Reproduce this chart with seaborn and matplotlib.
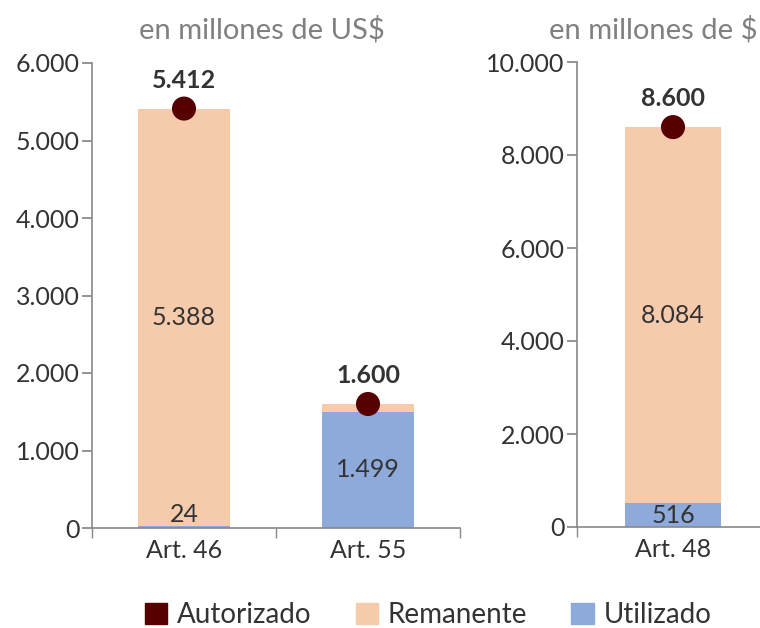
import matplotlib
matplotlib.use("Agg")
import matplotlib.pyplot as plt
import seaborn as sns
import pandas as pd
from matplotlib.patches import Patch
from matplotlib.ticker import FuncFormatter

# --- datos (en millones) ---
arts_left = ["Art. 46", "Art. 55"]
autorizado_left = [5412, 1600]
utilizado_left = [24, 1499]

arts_right = ["Art. 48"]
autorizado_right = [8600]
utilizado_right = [516]

subtitulos = ["en millones de US$", "en millones de $"]
leyenda = ["Autorizado", "Remanente", "Utilizado"]

C_AUT = "#560000"
C_REM = "#f6cbac"
C_UTI = "#8eaadb"
C_TXT = "#333333"
C_AX = "#888888"

sns.set_theme(style="white")
plt.rcParams["font.family"] = ["Lato", "DejaVu Sans"]

FS = 18


def miles(v, _pos=None):
    return f"{int(v):,}".replace(",", ".")


def panel(ax, arts, aut, uti, ymax, step):
    df = pd.DataFrame({"art": arts, "aut": aut, "uti": uti})
    df["rem"] = df["aut"] - df["uti"]
    # barra total (remanente) y encima la parte utilizada
    sns.barplot(data=df, x="art", y="aut", color=C_REM, width=0.5,
                saturation=1, linewidth=0, ax=ax)
    sns.barplot(data=df, x="art", y="uti", color=C_UTI, width=0.5,
                saturation=1, linewidth=0, ax=ax)
    sns.scatterplot(data=df, x="art", y="aut", color=C_AUT, s=300,
                    edgecolor="none", zorder=5, ax=ax)

    for i, r in df.iterrows():
        ax.annotate(miles(r["aut"]), (i, r["aut"]), xytext=(0, 12),
                    textcoords="offset points", ha="center", va="bottom",
                    fontsize=FS, fontweight="bold", color=C_TXT)
        if r["rem"] / ymax > 0.05:
            ax.text(i, r["uti"] + r["rem"] / 2, miles(r["rem"]), ha="center",
                    va="center", fontsize=FS, color=C_TXT)
        if r["uti"] / ymax > 0.05:
            ax.text(i, r["uti"] / 2, miles(r["uti"]), ha="center",
                    va="center", fontsize=FS, color=C_TXT)
        else:
            # segmento muy chico: etiqueta apoyada sobre la base
            ax.text(i, ymax * 0.005, miles(r["uti"]), ha="center", va="bottom",
                    fontsize=FS, color=C_TXT)

    ax.set_ylim(0, ymax)
    ax.set_yticks(range(0, ymax + 1, step))
    ax.yaxis.set_major_formatter(FuncFormatter(miles))
    ax.set_xticks(range(len(arts)))
    ax.set_xticks([b - 0.5 for b in range(len(arts) + 1)], minor=True)
    ax.set_xlim(-0.5, len(arts) - 0.5)
    ax.tick_params(axis="x", which="major", length=0, pad=8, labelsize=FS,
                   labelcolor=C_TXT)
    ax.tick_params(axis="x", which="minor", length=7, color=C_AX,
                   direction="out", bottom=True)
    ax.tick_params(axis="y", length=7, color=C_AX, direction="out", left=True,
                   labelsize=FS, labelcolor=C_TXT, pad=2)
    ax.set_xlabel("")
    ax.set_ylabel("")
    for s in ["top", "right"]:
        ax.spines[s].set_visible(False)
    for s in ["left", "bottom"]:
        ax.spines[s].set_color(C_AX)
        ax.spines[s].set_linewidth(1.2)


fig = plt.figure(figsize=(7.6, 6.28), dpi=100)
ax1 = fig.add_axes([92 / 760, 100 / 628, 368 / 760, 465 / 628])
# el panel derecho sigue más allá del borde de la imagen, como en el original
ax2 = fig.add_axes([577 / 760, 101 / 628, 192 / 760, 465 / 628])
for a in (ax1, ax2):
    a.set_facecolor("white")

panel(ax1, arts_left, autorizado_left, utilizado_left, 6000, 1000)
panel(ax2, arts_right, autorizado_right, utilizado_right, 10000, 2000)

fig.text(262 / 760, 1 - 30 / 628, subtitulos[0], ha="center", va="center",
         fontsize=21, color="#808080")
fig.text(549 / 760, 1 - 30 / 628, subtitulos[1], ha="left", va="center",
         fontsize=21, color="#808080")

handles = [Patch(color=C_AUT), Patch(color=C_REM), Patch(color=C_UTI)]
fig.legend(handles, leyenda, loc="center", bbox_to_anchor=(428 / 760, 13 / 628),
           ncol=3, frameon=False, fontsize=20, handlelength=0.8,
           handleheight=0.8, handletextpad=0.35, columnspacing=1.6,
           labelcolor=C_TXT)

fig.savefig("out.png", dpi=100, facecolor="white")
